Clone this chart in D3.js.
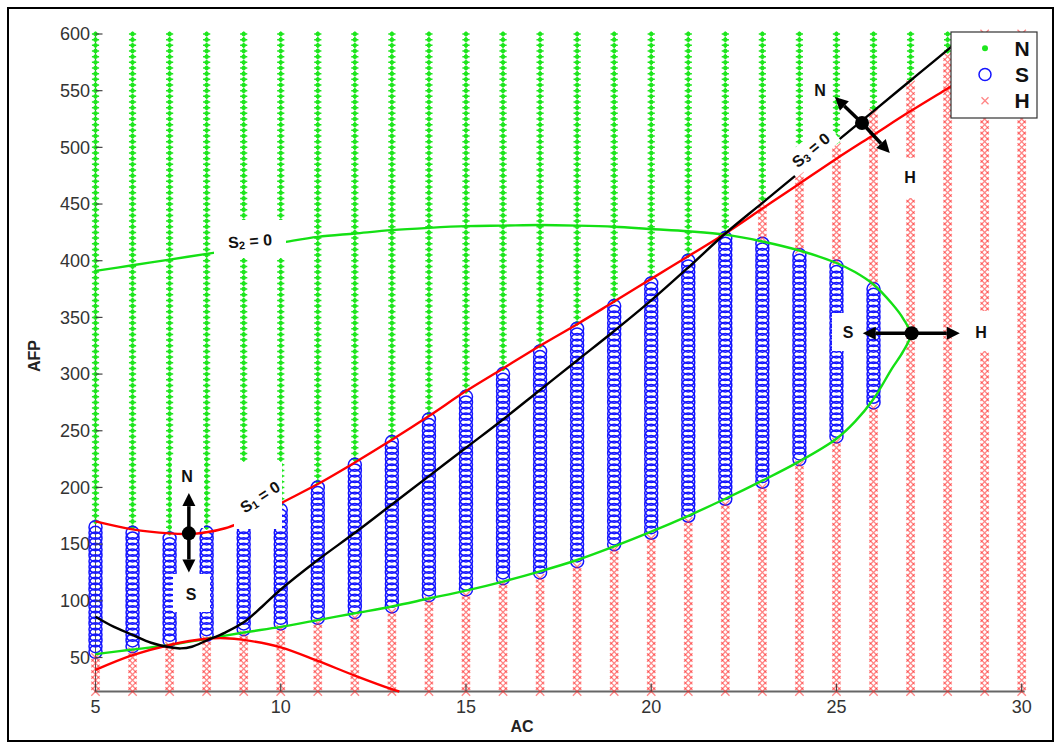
<!DOCTYPE html>
<html>
<head>
<meta charset="utf-8">
<script src="https://cdn.jsdelivr.net/npm/d3@7"></script>
<style>
  body { margin: 0; background: #fff; }
  svg { display: block; }
  text { font-family: Arial, "Liberation Sans", sans-serif; }
</style>
</head>
<body>
<svg id="chart" width="1060" height="745"></svg>
<script>
// ---- grid of (AC, AFP) points and their class per AC column ----
const acColumns = [5, 6, 7, 8, 9, 10, 11, 12, 13, 14, 15, 16, 17, 18, 19, 20, 21, 22, 23, 24, 25, 26, 27, 28, 29, 30];
// lowest / highest AFP of the S band in each column (null = no S points)
const sLow  = [55, 60, 65, 70, 75, 80, 85, 90, 95, 105, 110, 120, 125, 135, 150, 160, 175, 190, 205, 225, 245, 275, null, null, null, null];
const sHigh = [165, 160, 155, 160, 165, 180, 200, 220, 240, 260, 280, 300, 320, 340, 360, 380, 400, 420, 415, 405, 395, 375, null, null, null, null];
// lowest AFP classed N in each column (null = none)
const nLow  = [170, 165, 160, 165, 170, 185, 205, 225, 245, 265, 285, 305, 325, 345, 365, 385, 405, 425, 455, 480, 505, 535, 560, 585, null, null];
const afpStart = 20, afpEnd = 600, afpStep = 5;

const xTicks = [5, 10, 15, 20, 25, 30];
const yTicks = [50, 100, 150, 200, 250, 300, 350, 400, 450, 500, 550, 600];
const legendItems = ["N", "S", "H"];

// ---- boundary curves [AC, AFP] ----
const s1Upper = [[5,170],[6,163],[7,159.5],[7.5,159],[8,160.5],[8.5,164],[9,170],[9.5,177],[10,186],[11,203],[12,222],[13,242],[14,263],[15,285],[16,305],[17,325],[18,344],[19,364],[20,384],[21,404],[22,424],[23,446],[24,468],[25,490],[26,511],[27,532],[28,552],[28.5,562]];
const s1Lower = [[5,39],[6,52],[7,61],[8,66.5],[8.5,67],[9,65.5],[10,59],[11,47],[12,34],[13,22],[13.2,20]];
const s2Curve = [[5,391],[6,396],[7,401],[8,406],[9,411],[10,416],[11,421],[12,424],[13,427],[14,429],[15,430.5],[16,431],[17,431.5],[18,431],[19,430],[20,428],[21,426],[22,423],[23,417],[24,409],[25,398],[25.5,390],[26,379],[26.5,362],[26.8,349],[27,335],[26.8,320],[26.5,305],[26,278],[25.5,258],[25,243],[24,223],[23,206],[22,190],[21,175],[20,161],[19,148],[18,136],[17,126],[16,117],[15,109],[14,102],[13,95],[12,89],[11,83],[10,77],[9,72],[8,66.5],[7,61],[6,57],[5,53]];
const s3Curve = [[5,86],[5.5,77],[6,70],[6.5,63],[7,59],[7.3,58],[7.6,59.5],[8,65],[8.5,72],[9,81],[9.5,95],[10,110],[11,136],[12,160],[13,185],[14,210],[15,235],[16,260],[17,286],[18,312],[19,338],[20,365],[21,394],[22,424],[23,451],[24,478],[25,505],[26,532],[27,559],[28,586],[28.5,600]];

// ---- transition points (AC, AFP) with arrow ends ----
const transitions = [
  { at: [7.52, 159.5], from: [7.52, 125], to: [7.52, 195] },
  { at: [25.69, 521.5], from: [24.96, 544.4], to: [26.44, 495] },
  { at: [27.03, 336], from: [25.71, 336], to: [28.33, 336] }
];

const svg = d3.select("#chart");
const x = d3.scaleLinear().domain([5, 30]).range([95.5, 1021.7]);
const y = d3.scaleLinear().domain([20, 600]).range([691.5, 34]);

// outer frame
svg.append("rect").attr("x", 8).attr("y", 8).attr("width", 1045).attr("height", 733)
  .attr("fill", "none").attr("stroke", "#000").attr("stroke-width", 2);

// axis lines
svg.append("line").attr("x1", x(5)).attr("x2", x(5)).attr("y1", y(600)).attr("y2", y(20))
  .attr("stroke", "#555").attr("stroke-width", 1);
svg.append("line").attr("x1", x(5) - 1).attr("x2", x(30) + 3).attr("y1", y(20)).attr("y2", y(20))
  .attr("stroke", "#666").attr("stroke-width", 2);

// classify grid points
const pts = [];
acColumns.forEach((ac, i) => {
  for (let v = afpStart; v <= afpEnd; v += afpStep) {
    let cls = "H";
    if (sLow[i] !== null && v >= sLow[i] && v <= sHigh[i]) cls = "S";
    else if (nLow[i] !== null && v >= nLow[i]) cls = "N";
    pts.push({ ac, v, cls });
  }
});

const gN = svg.append("g"), gS = svg.append("g"), gH = svg.append("g");
function drawN(g, cx, cy) {
  g.append("circle").attr("cx", cx).attr("cy", cy).attr("r", 2.2).attr("fill", "#1ee61e");
  g.append("path").attr("d", `M${cx-3.6},${cy}H${cx+3.6}M${cx},${cy-2.6}V${cy+2.6}`)
    .attr("stroke", "#1ee61e").attr("stroke-width", 1.5);
}
function drawS(g, cx, cy, r) {
  g.append("circle").attr("cx", cx).attr("cy", cy).attr("r", r)
    .attr("fill", "none").attr("stroke", "#1515ff").attr("stroke-width", 1.5);
}
function drawH(g, cx, cy, h) {
  g.append("path").attr("d", `M${cx-h},${cy-h}L${cx+h},${cy+h}M${cx-h},${cy+h}L${cx+h},${cy-h}`)
    .attr("stroke", "#ff2020").attr("stroke-opacity", 0.55).attr("stroke-width", 1.3);
}
pts.forEach(p => {
  const cx = x(p.ac), cy = y(p.v);
  if (p.cls === "N") drawN(gN, cx, cy);
  else if (p.cls === "S") drawS(gS, cx, cy, 6.5);
  else drawH(gH, cx, cy, 4.2);
});

// ticks
const axisG = svg.append("g");
yTicks.forEach(t => {
  axisG.append("line").attr("x1", x(5)).attr("x2", x(5) + 7).attr("y1", y(t)).attr("y2", y(t))
    .attr("stroke", "#444").attr("stroke-width", 1.2);
  axisG.append("text").attr("x", 90).attr("y", y(t)).attr("dy", "0.35em")
    .attr("text-anchor", "end").attr("font-size", 18).attr("fill", "#333").text(t);
});
xTicks.forEach(t => {
  axisG.append("line").attr("x1", x(t)).attr("x2", x(t)).attr("y1", y(20)).attr("y2", y(20) - 8)
    .attr("stroke", "#444").attr("stroke-width", 1.2);
  axisG.append("text").attr("x", x(t)).attr("y", 713).attr("text-anchor", "middle")
    .attr("font-size", 18).attr("fill", "#333").text(t);
});
svg.append("text").attr("transform", "translate(40,356) rotate(-90)").attr("text-anchor", "middle")
  .attr("font-size", 16).attr("font-weight", "bold").attr("fill", "#222").text("AFP");
svg.append("text").attr("x", 522).attr("y", 732).attr("text-anchor", "middle")
  .attr("font-size", 16).attr("font-weight", "bold").attr("fill", "#222").text("AC");

// curves
const line = d3.line().x(d => x(d[0])).y(d => y(d[1])).curve(d3.curveCatmullRom.alpha(0.5));
const curves = [
  { data: s2Curve, color: "#14e014" },
  { data: s1Lower, color: "#ff0000" },
  { data: s1Upper, color: "#ff0000" },
  { data: s3Curve, color: "#000000" }
];
curves.forEach(c => svg.append("path").attr("d", line(c.data)).attr("fill", "none")
  .attr("stroke", c.color).attr("stroke-width", 2.4));

// white label backgrounds
const masks = [
  [172, 455, 32, 73], [173, 574, 37, 38], [234, 462, 48, 67], [214, 220, 72, 38],
  [898, 158, 24, 40], [832, 313, 30, 38], [968, 311, 27, 40], [809, 79, 22, 22]
];
masks.forEach(m => svg.append("rect").attr("x", m[0]).attr("y", m[1]).attr("width", m[2]).attr("height", m[3]).attr("fill", "#fff"));
svg.append("rect").attr("x", -29).attr("y", -12).attr("width", 58).attr("height", 24)
  .attr("transform", "translate(811,150) rotate(-40)").attr("fill", "#fff");

// curve name labels
function curveLabel(cx, cy, angle, idx) {
  const t = svg.append("text").attr("transform", `translate(${cx},${cy}) rotate(${angle})`)
    .attr("text-anchor", "middle").attr("dy", "0.35em").attr("font-size", 16)
    .attr("font-weight", "bold").attr("fill", "#111");
  t.append("tspan").text("S");
  t.append("tspan").attr("font-size", 11).attr("dy", 2).text(idx);
  t.append("tspan").attr("dy", -2).text(" = 0");
}
curveLabel(260, 497, -33, "1");
curveLabel(250, 241, -4, "2");
curveLabel(811, 150, -40, "3");

// arrows
transitions.forEach(tr => {
  [tr.from, tr.to].forEach(end => {
    const x0 = x(tr.at[0]), y0 = y(tr.at[1]), x1 = x(end[0]), y1 = y(end[1]);
    const ang = Math.atan2(y1 - y0, x1 - x0), L = 13, W = 6.5;
    const bx = x1 - L * Math.cos(ang), by = y1 - L * Math.sin(ang);
    svg.append("line").attr("x1", x0).attr("y1", y0).attr("x2", bx).attr("y2", by)
      .attr("stroke", "#000").attr("stroke-width", 3.5);
    svg.append("path").attr("d", `M${x1},${y1}L${bx - W * Math.sin(ang)},${by + W * Math.cos(ang)}L${bx + W * Math.sin(ang)},${by - W * Math.cos(ang)}Z`)
      .attr("fill", "#000");
  });
  svg.append("circle").attr("cx", x(tr.at[0])).attr("cy", y(tr.at[1])).attr("r", 7).attr("fill", "#000");
});

// region letters
const regionLetters = [
  { t: "N", px: 187, py: 476 }, { t: "S", px: 191, py: 594 },
  { t: "N", px: 820, py: 90 }, { t: "H", px: 910, py: 177 },
  { t: "S", px: 848, py: 332 }, { t: "H", px: 981, py: 332 }
];
regionLetters.forEach(r => svg.append("text").attr("x", r.px).attr("y", r.py).attr("dy", "0.35em")
  .attr("text-anchor", "middle").attr("font-family", "'Liberation Serif','DejaVu Serif',serif")
  .attr("font-weight", "bold").attr("font-size", 16).attr("fill", "#111").text(r.t));

// legend
const lg = svg.append("g");
lg.append("rect").attr("x", 951).attr("y", 32).attr("width", 86).attr("height", 86)
  .attr("fill", "#fff").attr("stroke", "#333").attr("stroke-width", 1.2);
legendItems.forEach((k, i) => {
  const cy = 48.3 + i * 26.2;
  if (k === "N") lg.append("circle").attr("cx", 985).attr("cy", cy).attr("r", 3).attr("fill", "#1ee61e");
  if (k === "S") drawS(lg, 985, cy, 6);
  if (k === "H") drawH(lg, 985, cy, 3.5);
  lg.append("text").attr("x", 1022).attr("y", cy).attr("dy", "0.36em").attr("text-anchor", "middle")
    .attr("font-size", 21).attr("font-weight", "bold").attr("fill", "#111").text(k);
});
</script>
</body>
</html>
